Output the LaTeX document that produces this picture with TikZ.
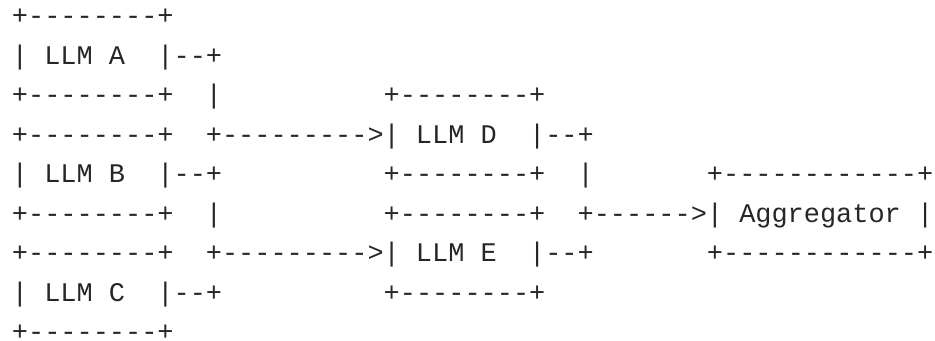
\documentclass[tikz,border=0pt]{standalone}
\usepackage{fontspec}
\setmonofont{Liberation Mono}
\begin{document}
\begin{tikzpicture}[x=0.75pt,y=-0.75pt,
  ascii/.style={anchor=base west, inner sep=0pt, outer sep=0pt, text depth=0pt,
    font=\ttfamily\fontsize{20.2}{24}\selectfont, text=black!85}]
\useasboundingbox (0,0) rectangle (935,341);
\node[ascii] (l1) at (12,25)     {+--------+};
\node[ascii] (l2) at (12,64.46)  {|~LLM~A~~|--+};
\node[ascii] (l3) at (12,103.92) {+--------+~~|~~~~~~~~~~+--------+};
\node[ascii] (l4) at (12,143.38) {+--------+~~+--------->|~LLM~D~~|--+};
\node[ascii] (l5) at (12,182.84) {|~LLM~B~~|--+~~~~~~~~~~+--------+~~|~~~~~~~+------------+};
\node[ascii] (l6) at (12,222.3)  {+--------+~~|~~~~~~~~~~+--------+~~+------>|~Aggregator~|};
\node[ascii] (l7) at (12,261.76) {+--------+~~+--------->|~LLM~E~~|--+~~~~~~~+------------+};
\node[ascii] (l8) at (12,301.22) {|~LLM~C~~|--+~~~~~~~~~~+--------+};
\node[ascii] (l9) at (12,340.5)  {+--------+};
\end{tikzpicture}
\end{document}
